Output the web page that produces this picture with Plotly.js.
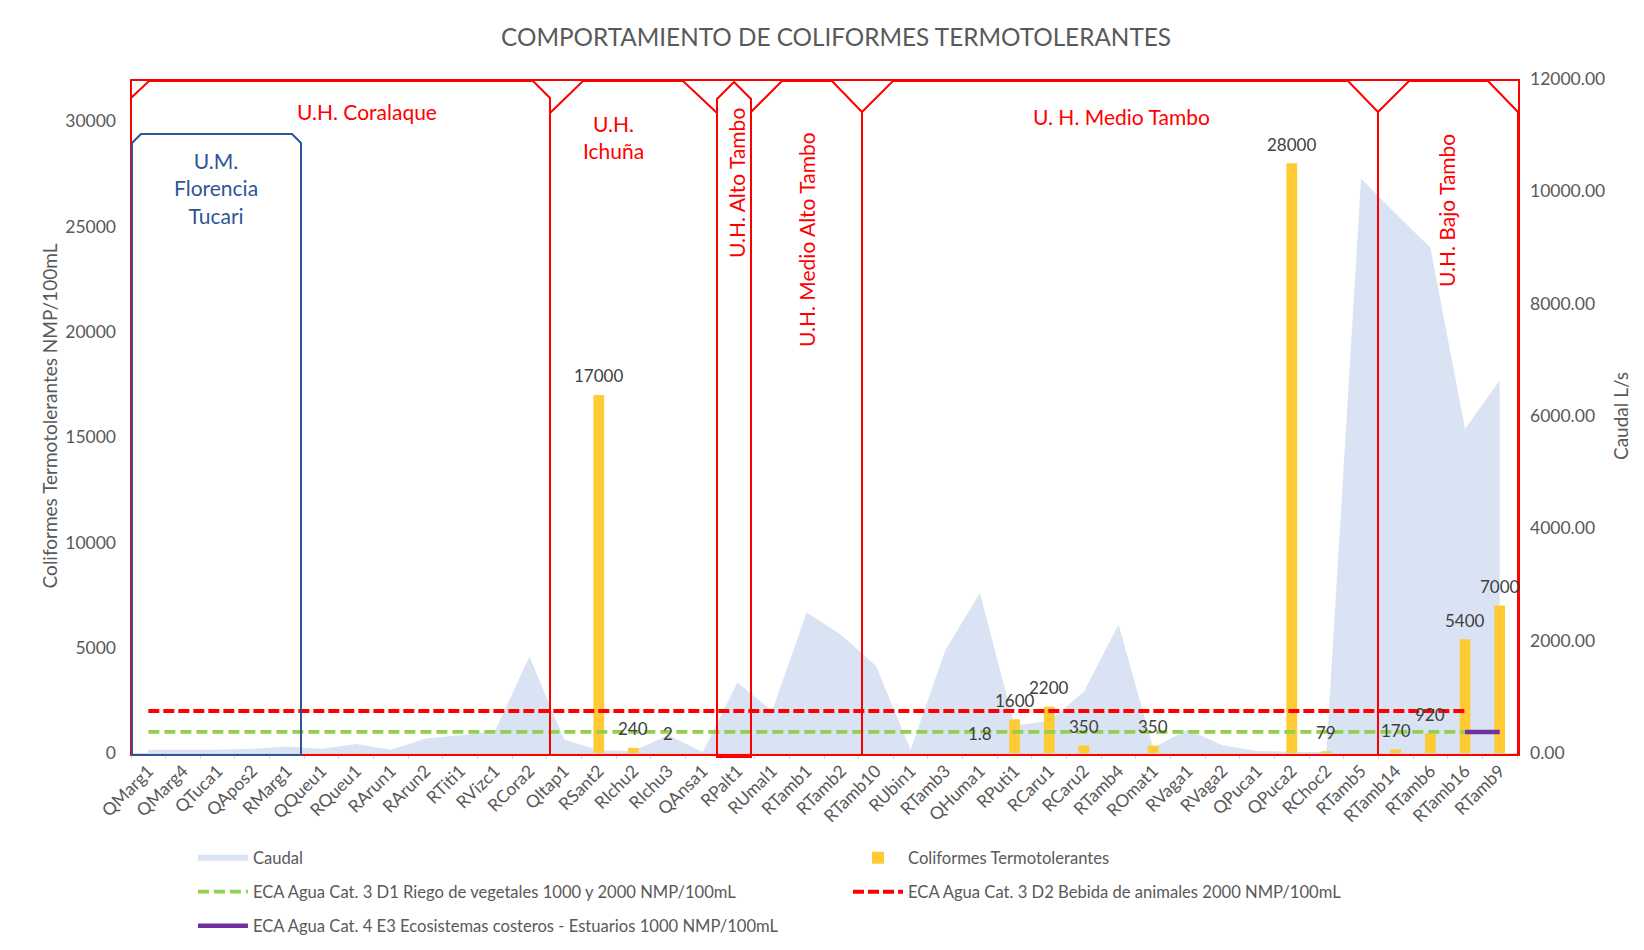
<!DOCTYPE html>
<html>
<head>
<meta charset="utf-8">
<script src="https://cdn.plot.ly/plotly-3.0.1.min.js"></script>
<style>html,body{margin:0;padding:0;background:#fff;}#chart{width:1644px;height:950px;}</style>
</head>
<body>
<div id="chart"></div>
<script>
const categories = ["QMarg1","QMarg4","QTuca1","QApos2","RMarg1","QQueu1","RQueu1","RArun1","RArun2","RTiti1",
  "RVizc1","RCora2","QItap1","RSant2","RIchu2","RIchu3","QAnsa1","RPalt1","RUmal1","RTamb1",
  "RTamb2","RTamb10","RUbin1","RTamb3","QHuma1","RPuti1","RCaru1","RCaru2","RTamb4","ROmat1",
  "RVaga1","RVaga2","QPuca1","QPuca2","RChoc2","RTamb5","RTamb14","RTamb6","RTamb16","RTamb9"];

const caudal = [58,58,58,75,115,75,160,58,260,317,
  387,1720,240,50,35,315,20,1256,750,2500,
  2100,1550,60,1830,2850,490,570,1090,2290,95,
  420,140,36,24,20,10230,9600,9000,5770,6630];

const coliformes = [null,null,null,null,null,null,null,null,null,null,
  null,null,null,17000,240,2,null,null,null,null,
  null,null,null,null,1.8,1600,2200,350,null,350,
  null,null,null,28000,79,null,170,920,5400,7000];

const ecaD1 = [1000,1000,1000,1000,1000,1000,1000,1000,1000,1000,
  1000,1000,1000,1000,1000,1000,1000,1000,1000,1000,
  1000,1000,1000,1000,1000,1000,1000,1000,1000,1000,
  1000,1000,1000,1000,1000,1000,1000,1000,1000,1000];

const ecaD2 = [2000,2000,2000,2000,2000,2000,2000,2000,2000,2000,
  2000,2000,2000,2000,2000,2000,2000,2000,2000,2000,
  2000,2000,2000,2000,2000,2000,2000,2000,2000,2000,
  2000,2000,2000,2000,2000,2000,2000,2000,2000,null];

const ecaE3 = [null,null,null,null,null,null,null,null,null,null,
  null,null,null,null,null,null,null,null,null,null,
  null,null,null,null,null,null,null,null,null,null,
  null,null,null,null,null,null,null,null,1000,1000];

const caudalTicks = [0,2000,4000,6000,8000,10000,12000];
const coliTicks = [0,5000,10000,15000,20000,25000,30000];

const seriesNames = {
  caudal: "Caudal",
  coli: "Coliformes Termotolerantes",
  d1: "ECA Agua Cat. 3 D1 Riego de vegetales 1000 y 2000 NMP/100mL",
  d2: "ECA Agua Cat. 3 D2 Bebida de animales 2000 NMP/100mL",
  e3: "ECA Agua Cat. 4 E3 Ecosistemas costeros - Estuarios 1000 NMP/100mL"
};

// ---- layout geometry (pixels) ----
const W = 1644, H = 950;
const L = 131, R = 1517, T = 79, B = 753;
const PW = R - L, PH = B - T;
const px = x => (x - L) / PW;
const py = y => (B - y) / PH;
const path = pts => 'M' + pts.map(p => px(p[0]).toFixed(5) + ',' + py(p[1]).toFixed(5)).join('L') + 'Z';

const FONT = 'Lato, "Open Sans", sans-serif';
const GRAY = '#595959';
const RED = '#FF0000';
const BLUE = '#2F5597';
const YELLOW = '#FFCA33';

const traces = [
  {type:'scatter', x:categories, y:caudal, name:seriesNames.caudal, mode:'none', fill:'tozeroy',
   fillcolor:'#DAE3F3', yaxis:'y', legend:'legend', legendgroup:'a'},
  {type:'bar', x:categories, y:coliformes, name:seriesNames.coli, yaxis:'y2', width:0.31,
   marker:{color:YELLOW}, legend:'legend2', legendgroup:'b'},
  {type:'scatter', x:categories, y:ecaD1, name:seriesNames.d1, mode:'lines', yaxis:'y2',
   line:{color:'#92D050', width:3.8, dash:'11px,5px'}, legend:'legend', legendgroup:'c'},
  {type:'scatter', x:categories, y:ecaD2, name:seriesNames.d2, mode:'lines', yaxis:'y2',
   line:{color:'#FF0000', width:4, dash:'11px,4px'}, legend:'legend2', legendgroup:'d'},
  {type:'scatter', x:categories, y:ecaE3, name:seriesNames.e3, mode:'lines', yaxis:'y2',
   line:{color:'#7030A0', width:4.5}, legend:'legend', legendgroup:'e'}
];

const annotations = [];
coliformes.forEach((v, i) => {
  if (v === null) return;
  annotations.push({x:categories[i], y:v, xref:'x', yref:'y2', text:String(v), showarrow:false,
    xanchor:'center', yanchor:'middle', yshift:19, font:{family:FONT, size:17, color:'#404040'}});
});

const regionFont = {family:FONT, size:21, color:RED};
const region = (x, y, text, angle, font) => ({xref:'paper', yref:'paper', x:px(x), y:py(y), text:text,
  textangle:angle, showarrow:false, xanchor:'center', yanchor:'middle', align:'center', font:font});
annotations.push(
  region(367, 112, 'U.H. Coralaque', 0, regionFont),
  region(613, 137, 'U.H.<br>Ichuña', 0, regionFont),
  region(216, 188, 'U.M.<br>Florencia<br>Tucari', 0, {family:FONT, size:21, color:BLUE}),
  region(736, 183, 'U.H. Alto Tambo', -90, regionFont),
  region(807, 240, 'U.H. Medio Alto Tambo', -90, regionFont),
  region(1121, 117, 'U. H. Medio Tambo', 0, regionFont),
  region(1446, 211, 'U.H. Bajo Tambo', -90, regionFont)
);

const redLine = {color:RED, width:2};
const shapes = [
  {type:'rect', xref:'paper', yref:'paper', x0:px(131), x1:px(1519), y0:py(755), y1:py(80), line:redLine, layer:'above'},
  {type:'path', xref:'paper', yref:'paper', path:path([[131,755],[131,98],[149,81],[533,81],[550,98],[550,755]]), line:redLine, layer:'above'},
  {type:'path', xref:'paper', yref:'paper', path:path([[550,755],[550,113],[583,81],[683,81],[717,113],[717,755]]), line:redLine, layer:'above'},
  {type:'path', xref:'paper', yref:'paper', path:path([[717,757],[717,99],[734,82],[751,99],[751,757]]), line:redLine, layer:'above'},
  {type:'path', xref:'paper', yref:'paper', path:path([[751,755],[751,112],[782,81],[832,81],[862,112],[862,755]]), line:redLine, layer:'above'},
  {type:'path', xref:'paper', yref:'paper', path:path([[862,755],[862,112],[893,81],[1348,81],[1378,112],[1378,755]]), line:redLine, layer:'above'},
  {type:'path', xref:'paper', yref:'paper', path:path([[1378,755],[1378,112],[1409,81],[1488,81],[1518,112],[1518,755]]), line:redLine, layer:'above'},
  {type:'path', xref:'paper', yref:'paper', path:path([[132,755],[132,143],[141,134],[292,134],[301,143],[301,755]]), line:{color:BLUE, width:2}, layer:'above'}
];

const legendBase = {orientation:'v', traceorder:'grouped', tracegroupgap:9.4, itemwidth:50,
  font:{family:FONT, size:16.6, color:GRAY}, bgcolor:'rgba(0,0,0,0)', xanchor:'left', yanchor:'top'};

const layout = {
  width:W, height:H,
  margin:{l:L, r:W-R, t:T, b:H-B, pad:0, autoexpand:false},
  paper_bgcolor:'#ffffff', plot_bgcolor:'#ffffff',
  font:{family:FONT, color:GRAY},
  title:{text:'COMPORTAMIENTO DE COLIFORMES TERMOTOLERANTES', xref:'container', yref:'container',
    x:836/W, y:1-37/H, xanchor:'center', yanchor:'middle', font:{family:FONT, size:24.3, color:GRAY}},
  xaxis:{type:'category', categoryorder:'array', categoryarray:categories, range:[-0.5, 39.5],
    tickangle:-45, tickson:'boundaries', ticks:'outside', ticklen:5, tickcolor:'#D9D9D9',
    showline:true, linecolor:'#D9D9D9', linewidth:1, showgrid:false, zeroline:false,
    tickfont:{family:FONT, size:17.5, color:GRAY}},
  yaxis:{side:'right', range:[0,12000], tickvals:caudalTicks, tickformat:'.2f', showgrid:false, zeroline:false,
    showline:false, ticks:'', ticklabelstandoff:12, tickfont:{family:FONT, size:17.5, color:GRAY},
    title:{text:'Caudal L/s', standoff:10, font:{family:FONT, size:19, color:GRAY}}},
  yaxis2:{overlaying:'y', side:'left', range:[0,32000], tickvals:coliTicks, tickformat:'d', showgrid:false, zeroline:false,
    showline:false, ticks:'', ticklabelstandoff:14, tickfont:{family:FONT, size:17.5, color:GRAY},
    title:{text:'Coliformes Termotolerantes NMP/100mL', standoff:2, font:{family:FONT, size:19, color:GRAY}}},
  legend:Object.assign({}, legendBase, {x:0.0447, y:-0.1297}),
  legend2:Object.assign({}, legendBase, {x:0.5173, y:-0.1297}),
  annotations:annotations,
  shapes:shapes,
  showlegend:true
};

Plotly.newPlot('chart', traces, layout, {displayModeBar:false, staticPlot:true});
</script>
</body>
</html>
